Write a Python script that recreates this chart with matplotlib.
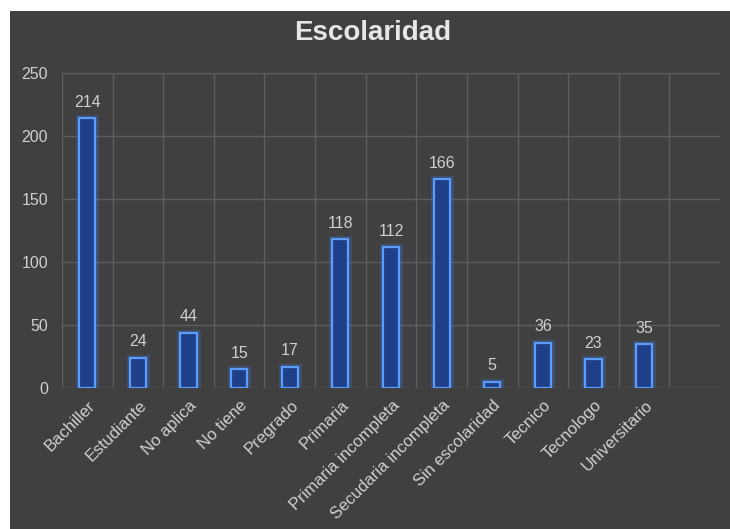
import numpy as np
import matplotlib.pyplot as plt
import matplotlib.patheffects as pe
from matplotlib.patches import Rectangle
from matplotlib import transforms

plt.rcParams['font.family'] = ['Liberation Sans', 'DejaVu Sans']

# datos
categorias = ["Bachiller", "Estudiante", "No aplica", "No tiene", "Pregrado",
              "Primaria", "Primaria incompleta", "Secudaria incompleta",
              "Sin escolaridad", "Tecnico", "Tecnologo", "Universitario"]
valores = [214, 24, 44, 15, 17, 118, 112, 166, 5, 36, 23, 35]

fondo = "#404040"
texto = "#d0d0d0"

fig = plt.figure(figsize=(7.3, 5.29), dpi=100, facecolor="white")
# fondo oscuro con margen blanco arriba e izquierda
fig.patches.append(Rectangle((10 / 730, 0), 1, 1 - 11 / 529, transform=fig.transFigure,
                             facecolor=fondo, edgecolor="none", zorder=-10))

ax = fig.add_axes([62 / 730, 1 - 388 / 529, (720 - 62) / 730, (388 - 73) / 529])
ax.set_facecolor(fondo)

x = np.arange(len(categorias))
barras = ax.bar(x, valores, width=0.32, color="#1f4088", edgecolor="#5c9cff",
                linewidth=1.6, zorder=3)
for b in barras:
    b.set_path_effects([pe.Stroke(linewidth=5, foreground="#3a6fd0", alpha=0.3),
                        pe.Normal()])

for xi, v in zip(x, valores):
    ax.annotate(str(v), (xi, v), xytext=(0, 6), textcoords="offset points",
                ha="center", va="bottom", color=texto, fontsize=11.5)

ax.set_xlim(-0.5, 12.5)
ax.set_ylim(0, 250)
ax.set_yticks(range(0, 251, 50))
ax.set_xticks(np.arange(13) - 0.5)
ax.set_xticklabels([])
ax.tick_params(axis="x", length=0)
ax.tick_params(axis="y", length=0, pad=10, colors=texto, labelsize=11.5)
ax.grid(True, color="#5e5e5e", linewidth=1, zorder=0)

# etiquetas del eje x
offs = transforms.ScaledTranslation(6 / 100, -15 / 100, fig.dpi_scale_trans)
for xi, c in zip(x, categorias):
    ax.text(xi, 0, c, rotation=45, rotation_mode="anchor", ha="right", va="center",
            color=texto, fontsize=12, transform=ax.get_xaxis_transform() + offs)

for s in ax.spines.values():
    s.set_visible(False)

fig.text(373 / 730, 1 - 33 / 529, "Escolaridad", ha="center", va="center",
         color="#e6e6e6", fontsize=20, fontweight="bold")

plt.savefig("out.png", dpi=100, facecolor=fig.get_facecolor())
